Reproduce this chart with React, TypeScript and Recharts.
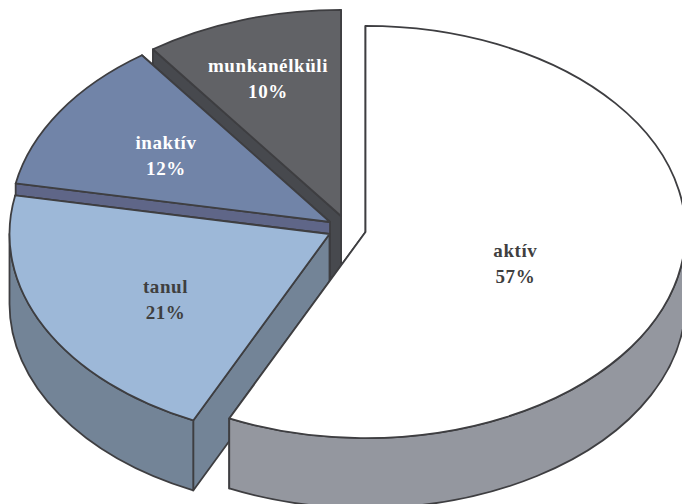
import React from 'react';
import { PieChart, Pie } from 'recharts';

// Data (drawn counter-clockwise from the top, back slices first so the front ones paint over them)
const categories = ['munkanélküli', 'inaktív', 'tanul', 'aktív'];
const shares = [10, 12, 21, 57];
const pieData = categories.map((name, i) => ({ name, value: shares[i] }));

// Styling / layout
const WIDTH = 682;
const HEIGHT = 504;
const CX = 344;
const CY = 224;
const RADIUS = 320;
const TILT = 0.644; // vertical squash of the circle
const DEPTH = 70; // height of the 3D wall
const STROKE = '#3e3e41';
const topColors = ['#616266', '#7184a8', '#9db8d8', '#ffffff'];
const wallColors = ['#47494e', '#5f6688', '#738497', '#94979f'];
const textColors = ['#ffffff', '#ffffff', '#3f3f3f', '#3f3f3f'];
const explodeX = [-3, -14, -14.5, 21.5];
const explodeY = [-8, -2, 10, 8];
const labelRadius = [0.738, 0.607, 0.575, 0.48];
const labelNudge = [8, 1, 12, 10];

const RAD = Math.PI / 180;

function SliceShape(props: any) {
  const { cx, cy, outerRadius, startAngle, endAngle, index } = props;
  const a0 = Math.min(startAngle, endAngle);
  const a1 = Math.max(startAngle, endAngle);
  const x0 = cx + explodeX[index];
  const y0 = cy + explodeY[index];
  const rx = outerRadius;
  const ry = outerRadius * TILT;
  const pt = (a: number, dz = 0) => ({
    x: x0 + rx * Math.cos(a * RAD),
    y: y0 - ry * Math.sin(a * RAD) + dz,
  });
  const s = pt(a0);
  const e = pt(a1);
  const large = a1 - a0 > 180 ? 1 : 0;
  const top = `M${x0},${y0} L${s.x},${s.y} A${rx},${ry} 0 ${large} 0 ${e.x},${e.y} Z`;
  const face = (p: { x: number; y: number }) =>
    `M${x0},${y0} L${p.x},${p.y} L${p.x},${p.y + DEPTH} L${x0},${y0 + DEPTH} Z`;
  const rimStart = Math.max(a0, 180);
  const rimEnd = Math.min(a1, 360);
  let rim = '';
  if (rimEnd > rimStart) {
    const p = pt(rimStart);
    const q = pt(rimEnd);
    const big = rimEnd - rimStart > 180 ? 1 : 0;
    rim = `M${p.x},${p.y} A${rx},${ry} 0 ${big} 0 ${q.x},${q.y} L${q.x},${q.y + DEPTH} A${rx},${ry} 0 ${big} 1 ${p.x},${p.y + DEPTH} Z`;
  }
  const common = { stroke: STROKE, strokeWidth: 1.8, strokeLinejoin: 'round' as const };
  return (
    <g>
      <path d={face(s)} fill={wallColors[index]} {...common} />
      <path d={face(e)} fill={wallColors[index]} {...common} />
      {rim && <path d={rim} fill={wallColors[index]} {...common} />}
      <path d={top} fill={topColors[index]} {...common} />
    </g>
  );
}

function SliceLabel(props: any) {
  const { cx, cy, outerRadius, midAngle, index, name, value } = props;
  const f = labelRadius[index];
  const x = cx + explodeX[index] + outerRadius * f * Math.cos(midAngle * RAD);
  const y =
    cy + explodeY[index] - outerRadius * TILT * f * Math.sin(midAngle * RAD) + labelNudge[index];
  return (
    <text
      x={x}
      y={y}
      textAnchor="middle"
      fill={textColors[index]}
      fontFamily="'Liberation Serif', serif"
      fontWeight="bold"
      fontSize={19}
      letterSpacing={0.6}
    >
      <tspan x={x} dy={-7}>{name}</tspan>
      <tspan x={x} dy={26}>{`${value}%`}</tspan>
    </text>
  );
}

export default function App() {
  return (
    <div style={{ position: 'absolute', left: 0, top: 0, width: WIDTH, height: HEIGHT, overflow: 'hidden', background: '#fff' }}>
      <PieChart width={WIDTH} height={HEIGHT} margin={{ top: 0, right: 0, bottom: 0, left: 0 }}>
        <Pie
          data={pieData}
          dataKey="value"
          nameKey="name"
          cx={CX}
          cy={CY}
          innerRadius={0}
          outerRadius={RADIUS}
          startAngle={90}
          endAngle={450}
          paddingAngle={0}
          stroke="none"
          shape={SliceShape}
          label={SliceLabel}
          labelLine={false}
          isAnimationActive={false}
        />
      </PieChart>
    </div>
  );
}
